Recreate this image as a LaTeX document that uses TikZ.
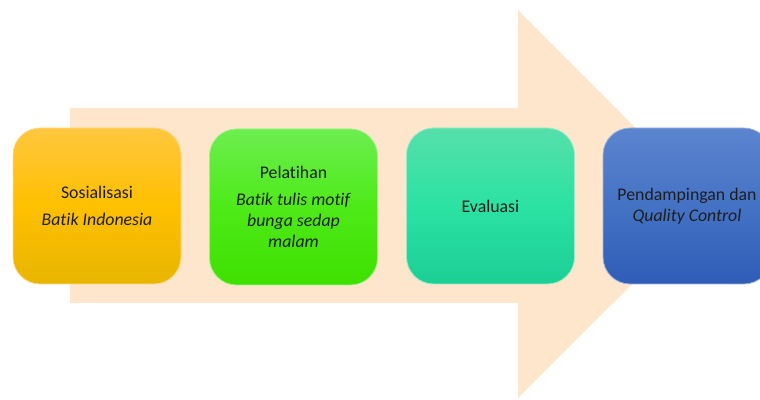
\documentclass[tikz,border=0pt]{standalone}
\usepackage{fontspec}
\setmainfont{Carlito}[Ligatures=NoCommon]
\definecolor{arrowfill}{HTML}{FDE6CC}
\definecolor{txt}{HTML}{1E1E1E}
\begin{document}
\begin{tikzpicture}[x=1pt,y=1pt,
  box/.style={rounded corners=27pt, minimum width=168pt, minimum height=156pt,
    inner sep=0pt, align=center, text=txt, line width=0.8pt,
    font=\fontsize{17.8}{21}\selectfont},
  yellowbox/.style={box, top color=yTop, bottom color=yBot, middle color=yMid, draw=yLine},
  greenbox/.style={box, top color=gTop, bottom color=gBot, middle color=gMid, draw=gLine},
  tealbox/.style={box, top color=tTop, bottom color=tBot, middle color=tMid, draw=tLine},
  bluebox/.style={box, top color=bTop, bottom color=bBot, middle color=bMid, draw=bLine}]
\definecolor{yTop}{HTML}{FFC73F}\definecolor{yMid}{HTML}{FFC000}\definecolor{yBot}{HTML}{E8B500}\definecolor{yLine}{HTML}{FFD98A}
\definecolor{gTop}{HTML}{6CEE50}\definecolor{gMid}{HTML}{4EEA18}\definecolor{gBot}{HTML}{3EE000}\definecolor{gLine}{HTML}{A0F08A}
\definecolor{tTop}{HTML}{56DFAA}\definecolor{tMid}{HTML}{2BE2A3}\definecolor{tBot}{HTML}{1CCE95}\definecolor{tLine}{HTML}{9BEBCB}
\definecolor{bTop}{HTML}{5C84CE}\definecolor{bMid}{HTML}{4472C4}\definecolor{bBot}{HTML}{2F5DB7}\definecolor{bLine}{HTML}{9DB3E0}
\clip (0,0) rectangle (760,399);
\useasboundingbox (0,0) rectangle (760,399);
\fill[arrowfill] (70,291) -- (518,291) -- (518,389) -- (712,194.5) -- (518,1) -- (518,96) -- (70,96) -- cycle;
\node[yellowbox] (b1) at (97,193) {Sosialisasi\\[6pt]\textit{Batik Indonesia}};
\node[greenbox] (b2) at (293.5,192) {Pelatihan\\[6pt]\textit{Batik tulis motif}\\\textit{bunga sedap}\\\textit{malam}};
\node[tealbox] (b3) at (490.5,193) {Evaluasi};
\node[bluebox] (b4) at (687,193) {Pendampingan dan\\\textit{Quality Control}};
\end{tikzpicture}
\end{document}
